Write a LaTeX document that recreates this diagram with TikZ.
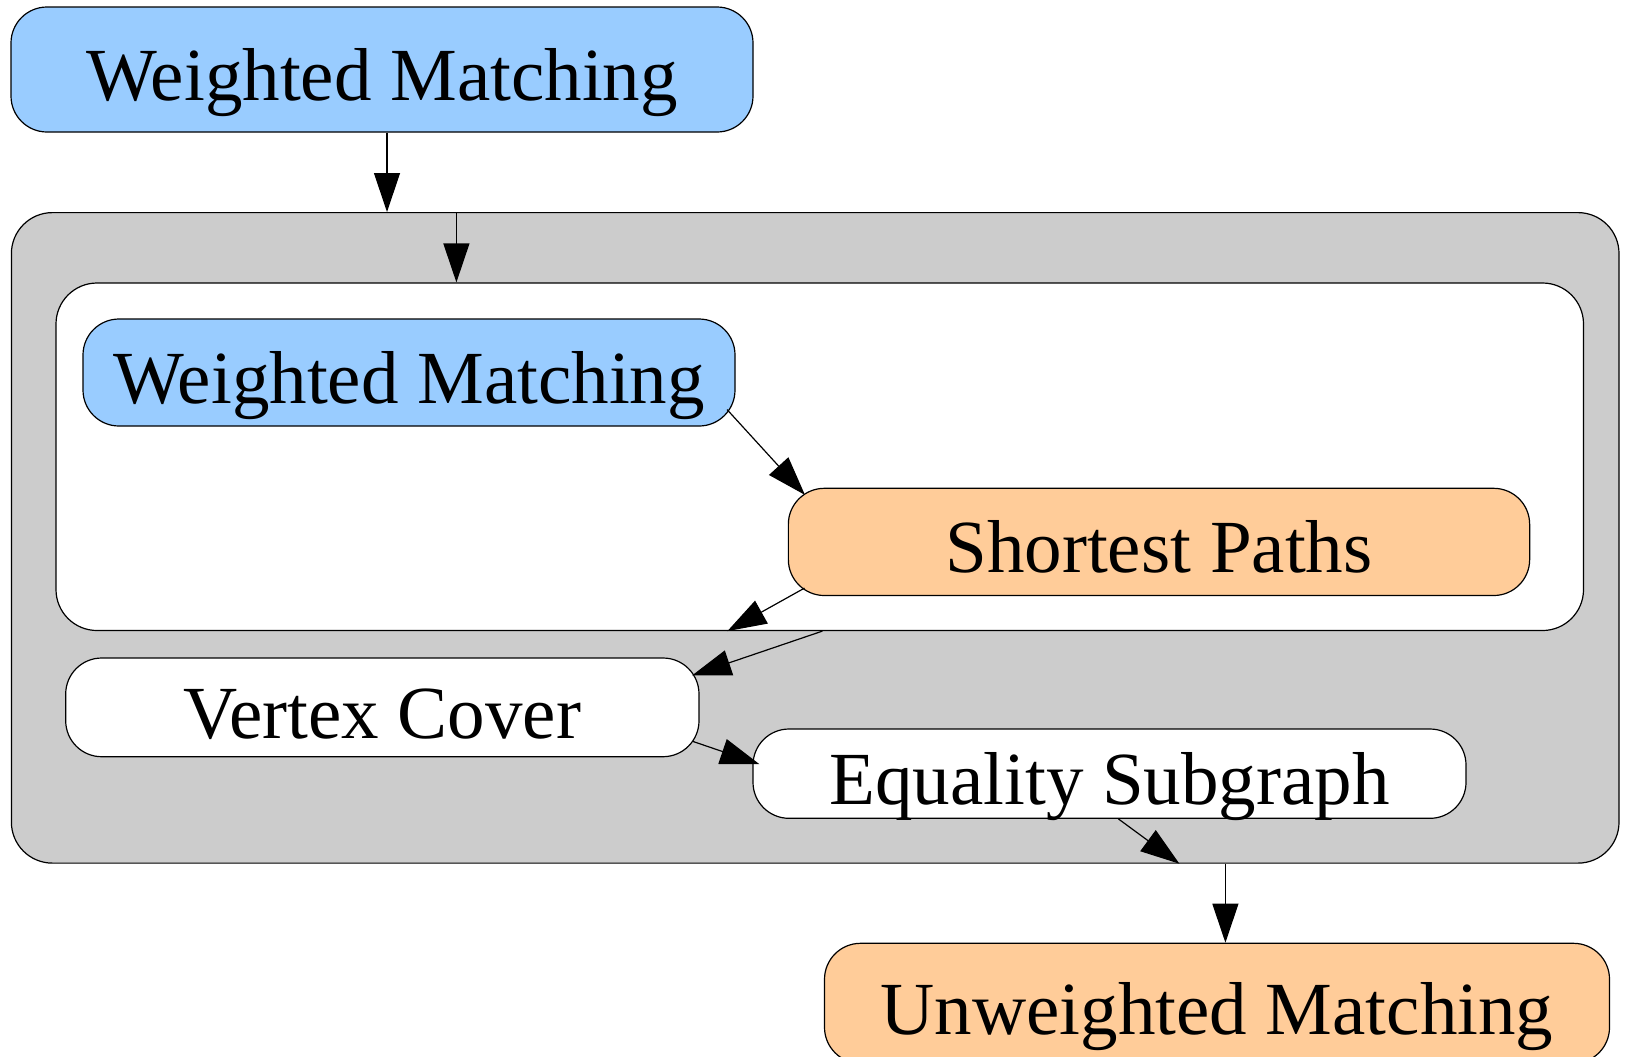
\documentclass[tikz,border=0pt]{standalone}
\usepackage{fontspec}
\setmainfont{Liberation Serif}
\usetikzlibrary{arrows.meta,calc}
\definecolor{wmblue}{HTML}{99CCFF}
\definecolor{peach}{HTML}{FFCC99}
\definecolor{clgray}{HTML}{CCCCCC}
\begin{document}
\begin{tikzpicture}[x=0.5pt,y=-0.5pt,
  cluster/.style={draw=black, line width=0.6pt, rounded corners=20.5pt, inner sep=0pt},
  box/.style={draw=black, line width=0.6pt, rounded corners=18pt, inner sep=0pt,
    font=\fontsize{37.5pt}{40pt}\selectfont, text height=31pt, text depth=0pt},
  edge/.style={line width=0.6pt, -{Triangle[length=19.5pt,width=13pt]}}]
\useasboundingbox (0,0) rectangle (1626,1056);
\fill[white] (0,0) rectangle (1626,1056);

% clusters
\node[cluster, fill=clgray, minimum width=803.8pt, minimum height=325.25pt] (gray) at (815.2,537.85) {};
\node[cluster, fill=white, minimum width=763.75pt, minimum height=173.75pt] (white) at (819.75,456.75) {};

% nodes
\node[box, fill=wmblue, minimum width=371pt, minimum height=62.5pt] (topwm) at (382,69.5) {Weighted Matching};
\node[box, fill=wmblue, minimum width=326pt, minimum height=53.5pt] (innerwm) at (409,372.5) {Weighted Matching};
\node[box, fill=peach, minimum width=370.65pt, minimum height=53.6pt] (sp) at (1159,541.9) {Shortest Paths};
\node[box, fill=white, minimum width=316.65pt, minimum height=49.35pt] (vc) at (382.35,707.35) {Vertex Cover};
\node[box, fill=white, minimum width=356.5pt, minimum height=44.65pt] (es) at (1109.5,773.65) {Equality Subgraph};
\node[box, fill=peach, minimum width=392.5pt, minimum height=60pt] (um) at (1217,1003.3) {Unweighted Matching};

% end points of the edges that meet cluster borders
\coordinate (topout) at ($(topwm.south)+(5,0)$);
\coordinate (grayin) at ($(gray.north west)+(445.6,0)$);
\coordinate (whitein) at ($(white.north west)+(401,0)$);
\coordinate (whiteout) at ($(white.south west)+(767,0)$);
\coordinate (grayout) at ($(gray.south west)+(1214.6,0)$);

% connectors
\draw[edge] (topout) -- (topout |- gray.north);
\draw[edge] (grayin) -- (whitein);
\draw[edge] ($(innerwm.south east)+(-8.5,-17)$) -- ($(sp.north west)+(17.2,7.2)$);
\draw[edge] ($(sp.south west)+(16.7,-8)$) -- ($(white.south west)+(672,0)$);
\draw[edge] (whiteout) -- ($(vc.north east)+(-7.5,18)$);
\draw[edge] ($(vc.south east)+(-7,-16)$) -- ($(es.west)+(7,-9.5)$);
\draw[edge] ($(es.south west)+(366,0)$) -- ($(gray.south west)+(1168.6,0)$);
\draw[edge] (grayout) -- (grayout |- um.north);
\end{tikzpicture}
\end{document}
